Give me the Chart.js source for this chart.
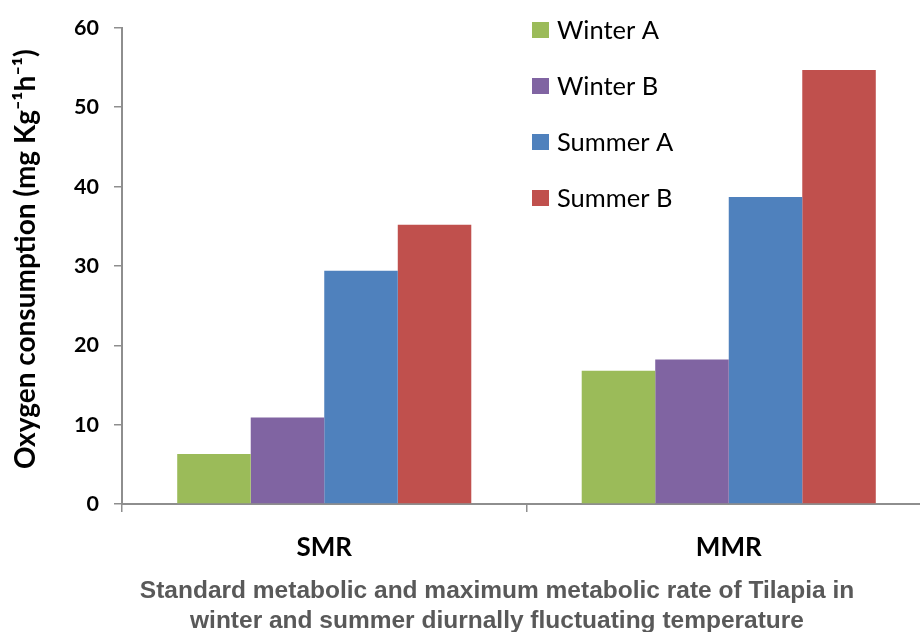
<!DOCTYPE html>
<html>
<head>
<meta charset="utf-8">
<script src="https://cdn.jsdelivr.net/npm/chart.js@4.4.1/dist/chart.umd.min.js"></script>
<style>
    html, body { margin: 0; padding: 0; background: #fff; overflow: hidden; }
    #wrap { width: 940px; height: 632px; position: relative; }
</style>
</head>
<body>
<div id="wrap"><canvas id="chart"></canvas></div>
<script>
// chart data
const categories = ['SMR', 'MMR'];
const seriesNames = ['Winter A', 'Winter B', 'Summer A', 'Summer B'];
const winterA = [6.3, 16.8];
const winterB = [10.9, 18.2];
const summerA = [29.4, 38.7];
const summerB = [35.2, 54.7];
const yTicks = [0, 10, 20, 30, 40, 50, 60];
const colors = ['#9BBB59', '#8064A2', '#4F81BD', '#C0504D'];
const captionLines = [
    'Standard metabolic and maximum metabolic rate of Tilapia in',
    'winter and summer diurnally fluctuating temperature'
];

const axisGray = '#8e8e8e';

// legend stacked inside the plot, top right
const legendInPlot = {
    id: 'legendInPlot',
    afterDraw(chart) {
        const ctx = chart.ctx;
        const area = chart.chartArea;
        ctx.save();
        ctx.font = '25.5px Lato';
        ctx.textBaseline = 'middle';
        chart.data.datasets.forEach((ds, i) => {
            const y = 30 + i * 56;
            const x = area.left + 410;
            ctx.fillStyle = ds.backgroundColor;
            ctx.fillRect(x, y - 8, 17, 16);
            ctx.fillStyle = '#000';
            ctx.fillText(ds.label, x + 25, y + 1);
        });
        ctx.restore();
    }
};

// two-line caption under the category labels
const caption = {
    id: 'caption',
    afterDraw(chart) {
        const ctx = chart.ctx;
        ctx.save();
        ctx.font = 'bold 24.5px "Liberation Sans", Arial';
        ctx.fillStyle = '#595959';
        ctx.textAlign = 'center';
        ctx.textBaseline = 'middle';
        captionLines.forEach((line, i) => {
            ctx.fillText(line, 497, 591 + i * 30);
        });
        ctx.restore();
    }
};

new Chart(document.getElementById('chart'), {
    type: 'bar',
    data: {
        labels: categories,
        datasets: [
            { label: seriesNames[0], data: winterA, backgroundColor: colors[0] },
            { label: seriesNames[1], data: winterB, backgroundColor: colors[1] },
            { label: seriesNames[2], data: summerA, backgroundColor: colors[2] },
            { label: seriesNames[3], data: summerB, backgroundColor: colors[3] }
        ]
    },
    options: {
        responsive: true,
        maintainAspectRatio: false,
        animation: false,
        categoryPercentage: 0.727,
        barPercentage: 1,
        layout: { padding: { top: 25, right: 9, left: 0, bottom: 0 } },
        plugins: {
            legend: { display: false },
            tooltip: { enabled: false }
        },
        scales: {
            x: {
                grid: {
                    offset: true,
                    drawOnChartArea: false,
                    tickLength: 8,
                    color: axisGray,
                    lineWidth: 1.5
                },
                border: { color: axisGray, width: 2 },
                ticks: {
                    color: '#000',
                    font: { family: 'Lato', weight: 'bold', size: 26 },
                    padding: 20
                },
                afterFit(scale) { scale.height = 128; }
            },
            y: {
                min: 0,
                max: 60,
                afterBuildTicks(scale) { scale.ticks = yTicks.map(v => ({ value: v })); },
                grid: {
                    drawOnChartArea: false,
                    tickLength: 8,
                    color: axisGray,
                    lineWidth: 1.5
                },
                border: { color: axisGray, width: 2 },
                ticks: {
                    color: '#000',
                    font: { family: 'Lato', weight: 'bold', size: 21.5 },
                    padding: 15
                },
                title: {
                    display: true,
                    text: '  Oxygen consumption (mg Kg\u207B\u00B9h\u207B\u00B9)',
                    color: '#000',
                    font: { family: 'Lato', weight: 'bold', size: 28 },
                    padding: { top: 9, bottom: 0 }
                },
                afterFit(scale) { scale.width = 122; }
            }
        }
    },
    plugins: [legendInPlot, caption]
});
</script>
</body>
</html>
